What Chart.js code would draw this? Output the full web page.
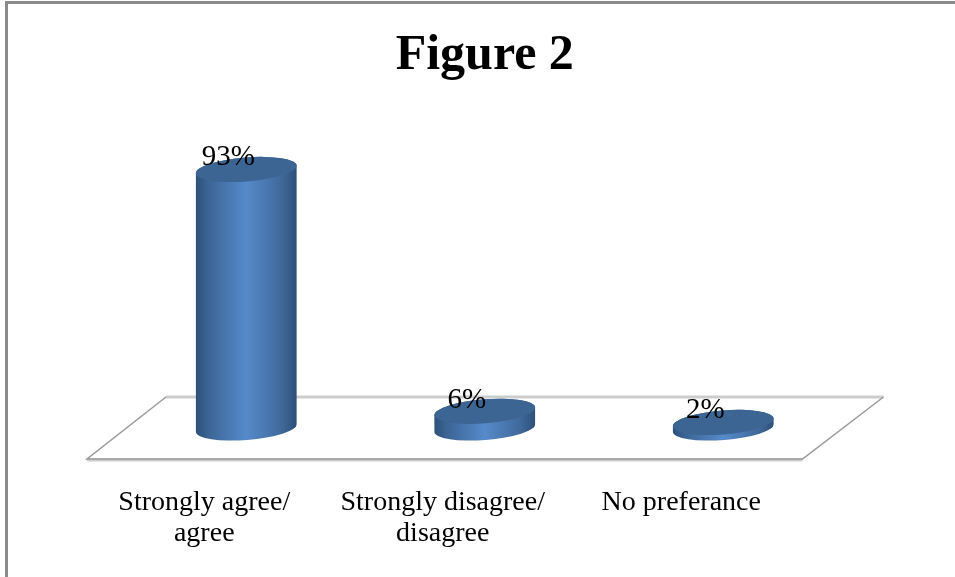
<!DOCTYPE html>
<html>
<head>
<meta charset="utf-8">
<title>Figure 2</title>
<script src="https://cdn.jsdelivr.net/npm/chart.js@4"></script>
<style>
  html, body { margin: 0; height: 100%; background: #fff; overflow: hidden; }
  #frame { position: absolute; left: 5px; top: 1px; width: 970px; height: 600px; border: 3px solid #8a8a8a; overflow: hidden; }
  canvas { display: block; }
</style>
</head>
<body>
<div id="frame"><canvas id="myChart" width="954" height="573"></canvas></div>
<script>
const categories = [['Strongly agree/', 'agree'], ['Strongly disagree/', 'disagree'], 'No preferance'];
const percents = [93, 6, 2];
const labelShiftY = [-12, -11, -12];

const halfBar = 50.5;
const ellipseRy = 12;
const tilt = -4.5 * Math.PI / 180;

function sideGradient(chart, i) {
  const cx = chart.scales.x.getPixelForValue(i);
  const g = chart.ctx.createLinearGradient(cx - halfBar, 0, cx + halfBar, 0);
  g.addColorStop(0, '#2c5078');
  g.addColorStop(0.12, '#3b6494');
  g.addColorStop(0.5, '#568acb');
  g.addColorStop(0.85, '#40699b');
  g.addColorStop(1, '#2c5078');
  return g;
}

function ellipse(ctx, x, y, fill) {
  ctx.beginPath();
  ctx.ellipse(x, y, halfBar, ellipseRy, tilt, 0, Math.PI * 2);
  ctx.fillStyle = fill;
  ctx.fill();
}

// outline of one cylinder: over the top cap, down the right side, round the bottom
function cylinderPath(ctx, bar) {
  ctx.ellipse(bar.x, bar.y, halfBar, ellipseRy, tilt, Math.PI, Math.PI * 2);
  ctx.ellipse(bar.x, bar.base, halfBar, ellipseRy, tilt, 0, Math.PI);
  ctx.closePath();
}

// floor plate behind the cylinders, plus round ends and value labels
const cylinders = {
  id: 'cylinders',
  beforeDatasetsDraw(chart) {
    const { ctx, chartArea: a } = chart;
    const bars = chart.getDatasetMeta(0).data;
    const back = a.bottom - 31, front = a.bottom + 31;
    ctx.save();
    ctx.lineWidth = 3;
    ctx.strokeStyle = '#cdcdcd';
    ctx.beginPath();
    ctx.moveTo(a.left - 40, front + 1);
    ctx.lineTo(a.right - 40, front + 1);
    ctx.moveTo(a.left + 39, back);
    ctx.lineTo(a.right + 41, back);
    ctx.stroke();
    ctx.lineWidth = 1.5;
    ctx.strokeStyle = '#999';
    ctx.beginPath();
    ctx.moveTo(a.left + 39, back);
    ctx.lineTo(a.left - 40, front);
    ctx.lineTo(a.right - 40, front);
    ctx.lineTo(a.right + 41, back);
    ctx.stroke();
    ctx.restore();

    bars.forEach((bar, i) => {
      ctx.beginPath();
      cylinderPath(ctx, bar);
      ctx.fillStyle = sideGradient(chart, i);
      ctx.fill();
    });
    // keep the square bar corners inside the rounded outline
    ctx.save();
    ctx.beginPath();
    bars.forEach(bar => cylinderPath(ctx, bar));
    ctx.clip();
  },
  afterDatasetsDraw(chart) {
    const { ctx } = chart;
    ctx.restore();
    ctx.save();
    chart.getDatasetMeta(0).data.forEach(bar => {
      ellipse(ctx, bar.x, bar.y, '#3c6594');
    });
    ctx.fillStyle = '#000';
    ctx.font = '29px "Liberation Serif"';
    ctx.textAlign = 'center';
    ctx.textBaseline = 'middle';
    chart.getDatasetMeta(0).data.forEach((bar, i) => {
      ctx.fillText(percents[i] + '%', bar.x - 18, bar.y + labelShiftY[i]);
    });
    ctx.restore();
  }
};

new Chart(document.getElementById('myChart'), {
  type: 'bar',
  data: {
    labels: categories,
    datasets: [{
      data: percents,
      barThickness: halfBar * 2 - 2,
      borderWidth: 0,
      backgroundColor: c => c.chart.chartArea ? sideGradient(c.chart, c.dataIndex) : '#4f81bd'
    }]
  },
  options: {
    responsive: false,
    animation: false,
    layout: { padding: { left: 119, right: 119.5, top: 0, bottom: 0 } },
    plugins: {
      legend: { display: false },
      tooltip: { enabled: false },
      title: {
        display: true,
        text: 'Figure 2',
        color: '#000',
        font: { family: '"Liberation Serif"', size: 50, weight: 'bold', lineHeight: 1.2 },
        padding: { top: 22, bottom: 64 }
      }
    },
    scales: {
      y: { display: false, min: 0, max: 100 },
      x: {
        afterFit(scale) { scale.height = 149; },
        border: { display: false },
        grid: { display: false },
        ticks: {
          color: '#000',
          padding: 51,
          labelOffset: -42,
          maxRotation: 0,
          autoSkip: false,
          font: { family: '"Liberation Serif"', size: 28, lineHeight: 1.1 }
        }
      }
    }
  },
  plugins: [cylinders]
});
</script>
</body>
</html>
